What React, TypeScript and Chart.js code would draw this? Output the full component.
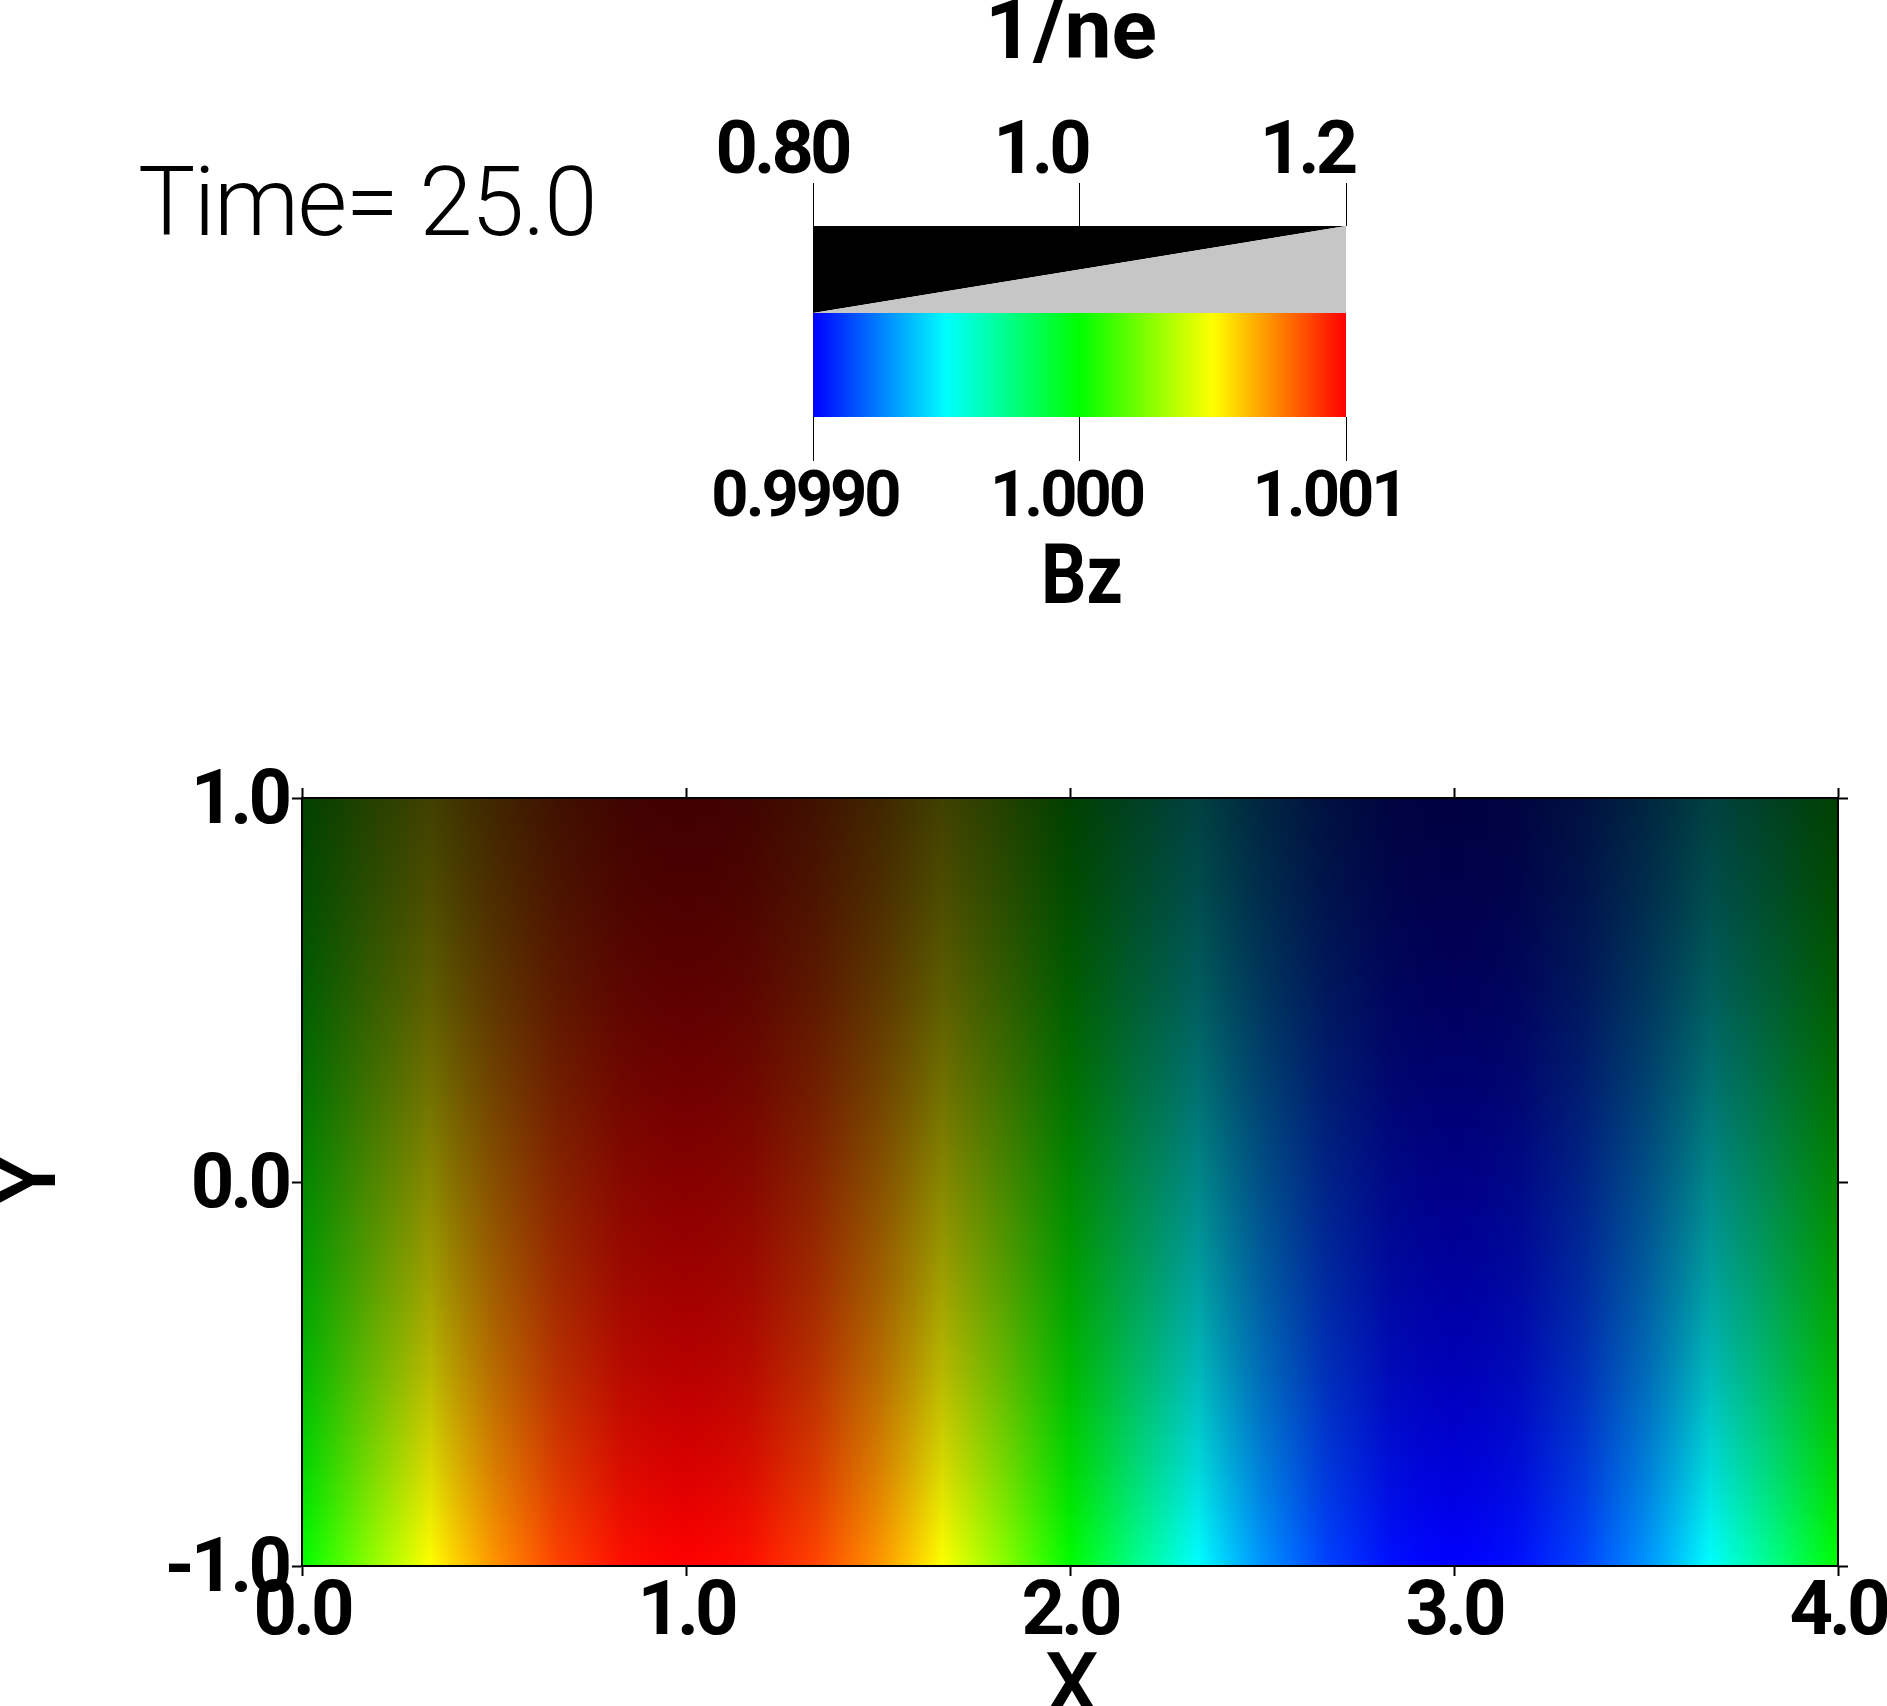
import React, { useEffect, useRef } from "react";
import { Chart, registerables } from "chart.js";

Chart.register(...registerables);

const W = 1887;
const H = 1706;

// Field: colour variable along X, shading variable along Y
const xSamples = [
  0, 0.0833, 0.1667, 0.25, 0.3333, 0.4167, 0.5, 0.5833, 0.6667, 0.75, 0.8333, 0.9167, 1,
  1.0833, 1.1667, 1.25, 1.3333, 1.4167, 1.5, 1.5833, 1.6667, 1.75, 1.8333, 1.9167, 2,
  2.0833, 2.1667, 2.25, 2.3333, 2.4167, 2.5, 2.5833, 2.6667, 2.75, 2.8333, 2.9167, 3,
  3.0833, 3.1667, 3.25, 3.3333, 3.4167, 3.5, 3.5833, 3.6667, 3.75, 3.8333, 3.9167, 4,
];
const bzValues = [
  1.0, 1.00013, 1.00026, 1.00038, 1.0005, 1.00061, 1.00071, 1.00079, 1.00087, 1.00092, 1.00097, 1.00099, 1.001,
  1.00099, 1.00097, 1.00092, 1.00087, 1.00079, 1.00071, 1.00061, 1.0005, 1.00038, 1.00026, 1.00013, 1.0,
  0.99987, 0.99974, 0.99962, 0.9995, 0.99939, 0.99929, 0.99921, 0.99913, 0.99908, 0.99903, 0.99901, 0.999,
  0.99901, 0.99903, 0.99908, 0.99913, 0.99921, 0.99929, 0.99939, 0.9995, 0.99962, 0.99974, 0.99987, 1.0,
];
const ySamples = [1, 0.75, 0.5, 0.25, 0, -0.25, -0.5, -0.75, -1];
const brightness = [0.25, 0.3, 0.36, 0.44, 0.53, 0.62, 0.72, 0.85, 1];

// Colour table for Bz
const bzStops = [0.999, 0.9995, 1.0, 1.0005, 1.001];
const bzStopColors = ["#0000ff", "#00ffff", "#00ff00", "#ffff00", "#ff0000"];

// Axis ticks
const xTicks = [0, 1, 2, 3, 4];
const xTickLabels = ["0.0", "1.0", "2.0", "3.0", "4.0"];
const yTicks = [-1, 0, 1];
const yTickLabels = ["-1.0", "0.0", "1.0"];

// Opacity legend (1/ne)
const neTicks = [0.8, 1.0, 1.2];
const neTickLabels = ["0.80", "1.0", "1.2"];
const neRamp = [0.8, 1.0, 1.2];

// Colour legend (Bz)
const bzTicks = [0.999, 1.0, 1.001];
const bzTickLabels = ["0.9990", "1.000", "1.001"];

const timeText = "Time= 25.0";

const FONT = "Roboto, sans-serif";

function bzToColor(v: number) {
  const n = bzStops.length;
  const cl = Math.max(bzStops[0], Math.min(bzStops[n - 1], v));
  let i = 0;
  while (i < n - 2 && cl > bzStops[i + 1]) i++;
  const t = (cl - bzStops[i]) / (bzStops[i + 1] - bzStops[i]);
  const p = (s: string) => [1, 3, 5].map((k) => parseInt(s.slice(k, k + 2), 16));
  const a = p(bzStopColors[i]);
  const b = p(bzStopColors[i + 1]);
  const c = a.map((va, k) => Math.round(va + (b[k] - va) * t));
  return `rgb(${c[0]},${c[1]},${c[2]})`;
}

const sizeFix = (w: number | null, h: number | null) => (s: any) => {
  if (w !== null) s.width = w;
  if (h !== null) s.height = h;
  s.paddingLeft = 0;
  s.paddingRight = 0;
  s.paddingTop = 0;
  s.paddingBottom = 0;
};

const nudge = (id: string, dx: number[], dy: number) => ({
  id: "nudge" + id,
  beforeDraw(chart: any) {
    const items = chart.scales[id].getLabelItems();
    if (items.__done) return;
    items.forEach((it: any, i: number) => {
      it.options.translation[0] += dx[i] || 0;
      it.options.translation[1] += dy;
    });
    items.__done = true;
  },
});

const tightText = (spacing: string) => ({
  id: "tightText",
  beforeDraw(chart: any) {
    chart.ctx.letterSpacing = spacing;
  },
});

const setTicks = (values: number[]) => (s: any) => {
  s.ticks = values.map((value) => ({ value }));
};
const labelFrom = (values: number[], labels: string[]) => (v: number) => {
  const i = values.findIndex((u) => Math.abs(u - v) < 1e-9);
  return i >= 0 ? labels[i] : "";
};

function mainConfig(): any {
  const hGrad = (c: any) => {
    if (!c.chart.chartArea) return "#00ff00";
    const sx = c.chart.scales.x;
    const g = c.chart.ctx.createLinearGradient(sx.getPixelForValue(0), 0, sx.getPixelForValue(4), 0);
    xSamples.forEach((x, i) => g.addColorStop(x / 4, bzToColor(bzValues[i])));
    return g;
  };
  const vGrad = (c: any) => {
    if (!c.chart.chartArea) return "rgba(0,0,0,0)";
    const sy = c.chart.scales.y;
    const g = c.chart.ctx.createLinearGradient(0, sy.getPixelForValue(1), 0, sy.getPixelForValue(-1));
    ySamples.forEach((y, i) => g.addColorStop((1 - y) / 2, `rgba(0,0,0,${(1 - brightness[i]).toFixed(3)})`));
    return g;
  };
  const edge = { display: true, color: "#000", width: 2, z: 1 };
  const grid = { drawOnChartArea: false, drawTicks: true, tickLength: 10, tickWidth: 2, tickColor: "#000", z: 1 };
  return {
    type: "line",
    data: {
      datasets: [
        {
          label: "1/ne",
          data: [{ x: 0, y: 1 }, { x: 4, y: 1 }],
          backgroundColor: vGrad,
          borderWidth: 0,
          pointRadius: 0,
          fill: { value: -1 },
        },
        {
          label: "Bz",
          data: xSamples.map((x, i) => ({ x, y: 1, bz: bzValues[i] })),
          backgroundColor: hGrad,
          borderWidth: 0,
          pointRadius: 0,
          fill: { value: -1 },
        },
      ],
    },
    plugins: [nudge("x", [], -7), nudge("y", [], 6), tightText("-4px")],
    options: {
      animation: false,
      responsive: false,
      parsing: false,
      layout: { padding: { top: 798, right: 49, left: 0, bottom: 0 } },
      plugins: { legend: { display: false }, tooltip: { enabled: false } },
      scales: {
        x: {
          type: "linear", position: "bottom", min: 0, max: 4,
          afterFit: sizeFix(null, 140), afterBuildTicks: setTicks(xTicks),
          border: edge, grid,
          ticks: {
            color: "#000", padding: 0, maxRotation: 0, minRotation: 0, autoSkip: false,
            font: { family: FONT, weight: "bold", size: 76 },
            callback: labelFrom(xTicks, xTickLabels),
          },
          title: {
            display: true, text: "X", color: "#000", padding: { top: 0, bottom: -28 },
            font: { family: FONT, weight: "500", size: 86, lineHeight: 1 },
          },
        },
        y: {
          type: "linear", position: "left", min: -1, max: 1,
          afterFit: sizeFix(302, null), afterBuildTicks: setTicks(yTicks),
          border: edge, grid,
          ticks: {
            color: "#000", padding: 4, autoSkip: false,
            font: { family: FONT, weight: "bold", size: 76 },
            callback: labelFrom(yTicks, yTickLabels),
          },
          title: {
            display: true, text: "Y", color: "#000", padding: { top: -10, bottom: 0 },
            font: { family: FONT, weight: "500", size: 86, lineHeight: 1 },
          },
        },
        x2: {
          type: "linear", axis: "x", position: "top", min: 0, max: 4,
          afterFit: sizeFix(null, 0), afterBuildTicks: setTicks(xTicks),
          border: edge, grid, ticks: { display: false },
        },
        y2: {
          type: "linear", axis: "y", position: "right", min: -1, max: 1,
          afterFit: sizeFix(0, null), afterBuildTicks: setTicks(yTicks),
          border: edge, grid, ticks: { display: false },
        },
      },
    },
  };
}

function neConfig(): any {
  const pts = neRamp.map((v) => ({ x: v, y: v }));
  return {
    type: "line",
    data: {
      datasets: [
        { label: "ramp", data: pts, backgroundColor: "#c6c6c6", borderWidth: 0, pointRadius: 0, fill: "start" },
        { label: "rest", data: pts, backgroundColor: "#000000", borderWidth: 0, pointRadius: 0, fill: "end" },
      ],
    },
    plugins: [nudge("x", [-31, -39, -39], 20), tightText("-4px")],
    options: {
      animation: false,
      responsive: false,
      parsing: false,
      layout: { padding: { top: 0, left: 813, right: W - 1346, bottom: H - 313 } },
      plugins: { legend: { display: false }, tooltip: { enabled: false } },
      scales: {
        x: {
          type: "linear", position: "top", min: 0.8, max: 1.2,
          afterFit: sizeFix(null, 226), afterBuildTicks: setTicks(neTicks),
          border: { display: false },
          grid: { drawOnChartArea: false, tickLength: 43, tickWidth: 1, tickColor: "#000" },
          ticks: {
            color: "#000", padding: 4, maxRotation: 0, minRotation: 0, autoSkip: false,
            font: { family: FONT, weight: "bold", size: 74 },
            callback: labelFrom(neTicks, neTickLabels),
          },
        },
        y: { type: "linear", display: false, min: 0.8, max: 1.2 },
      },
    },
  };
}

function bzConfig(): any {
  const grad = (c: any) => {
    if (!c.chart.chartArea) return "#00ff00";
    const sx = c.chart.scales.x;
    const x0 = sx.getPixelForValue(bzStops[0]);
    const x1 = sx.getPixelForValue(bzStops[bzStops.length - 1]);
    const g = c.chart.ctx.createLinearGradient(x0, 0, x1, 0);
    bzStops.forEach((v, i) => g.addColorStop((sx.getPixelForValue(v) - x0) / (x1 - x0), bzStopColors[i]));
    return g;
  };
  return {
    type: "line",
    data: {
      datasets: [
        {
          label: "Bz",
          data: bzStops.map((v) => ({ x: v, y: 1 })),
          backgroundColor: grad,
          borderWidth: 0,
          pointRadius: 0,
          fill: "start",
        },
      ],
    },
    plugins: [nudge("x", [-8, -13, -17], -4), tightText("-3px")],
    options: {
      animation: false,
      responsive: false,
      parsing: false,
      layout: { padding: { top: 313, left: 813, right: W - 1346, bottom: 0 } },
      plugins: { legend: { display: false }, tooltip: { enabled: false } },
      scales: {
        x: {
          type: "linear", position: "bottom", min: 0.999, max: 1.001,
          afterFit: sizeFix(null, H - 417), afterBuildTicks: setTicks(bzTicks),
          border: { display: false },
          grid: { drawOnChartArea: false, tickLength: 44, tickWidth: 1, tickColor: "#000" },
          ticks: {
            color: "#000", padding: 4, maxRotation: 0, minRotation: 0, autoSkip: false,
            font: { family: FONT, weight: "bold", size: 65 },
            callback: labelFrom(bzTicks, bzTickLabels),
          },
        },
        y: { type: "linear", display: false, min: 0, max: 1 },
      },
    },
  };
}

const canvasStyle: React.CSSProperties = { position: "absolute", left: 0, top: 0, width: W, height: H };

const titleStyle: React.CSSProperties = {
  position: "absolute", width: 300, textAlign: "center", fontFamily: FONT, fontWeight: 700,
  fontSize: 84, lineHeight: "100px", color: "#000", whiteSpace: "pre",
};

export default function App() {
  const a = useRef<HTMLCanvasElement>(null);
  const b = useRef<HTMLCanvasElement>(null);
  const c = useRef<HTMLCanvasElement>(null);
  useEffect(() => {
    const charts = [
      new Chart(a.current as any, mainConfig()),
      new Chart(b.current as any, neConfig()),
      new Chart(c.current as any, bzConfig()),
    ];
    charts.forEach((ch) => ch.update());
    return () => charts.forEach((ch) => ch.destroy());
  }, []);
  return (
    <div style={{ position: "absolute", left: 0, top: 0, width: W, height: H, overflow: "hidden", background: "#fff" }}>
      <canvas ref={a} width={W} height={H} style={canvasStyle} />
      <canvas ref={b} width={W} height={H} style={canvasStyle} />
      <canvas ref={c} width={W} height={H} style={canvasStyle} />
      <div
        style={{
          position: "absolute", left: 138, top: 146, fontFamily: FONT, fontWeight: 300,
          fontSize: 96, lineHeight: "112px", letterSpacing: "-1.5px", color: "#000", whiteSpace: "pre",
        }}
      >
        {timeText}
      </div>
      <div style={{ ...titleStyle, left: 921, top: -20, width: 300 }}>1/ne</div>
      <div style={{ ...titleStyle, left: 932, top: 525, transform: "scaleX(0.85)" }}>Bz</div>
    </div>
  );
}
